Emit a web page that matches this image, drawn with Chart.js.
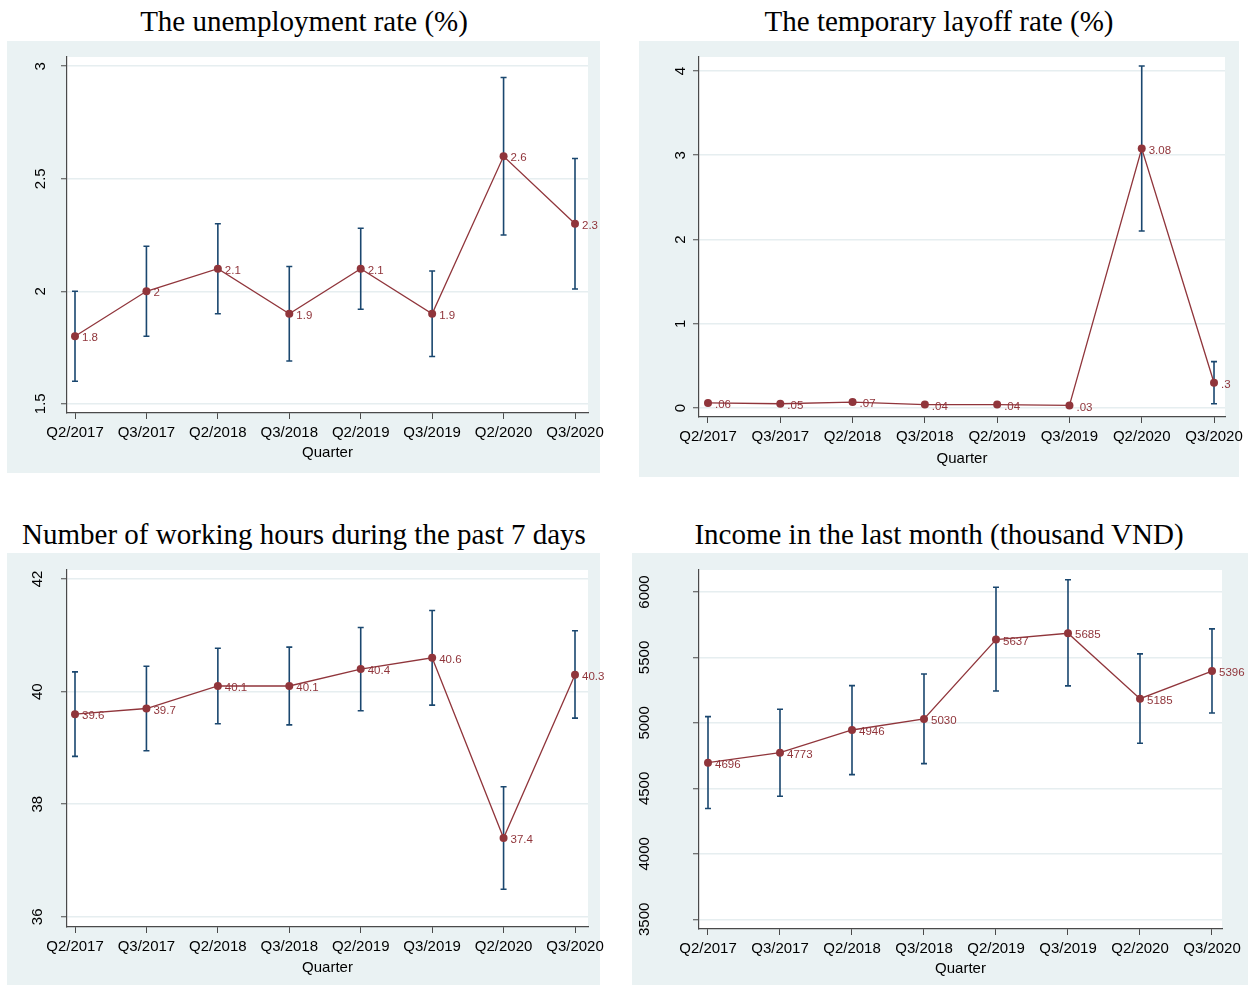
<!DOCTYPE html>
<html>
<head>
<meta charset="utf-8">
<script src="https://cdn.jsdelivr.net/npm/chart.js@4/dist/chart.umd.min.js"></script>
<style>
  body { margin: 0; background: #fff; width: 1255px; height: 986px; position: relative; overflow: hidden; }
  .title { position: absolute; font-family: "Liberation Serif", "Times New Roman", serif; font-size: 29px; color: #000; white-space: nowrap; transform: translate(-50%, -50%); }
  .panel { position: absolute; background: #eaf2f3; overflow: visible; }
  canvas { display: block; position: absolute; left: 0; top: 0; }
</style>
</head>
<body>

<div class="title" style="left:304px; top:21px;">The unemployment rate (%)</div>
<div class="title" style="left:939px; top:21px;">The temporary layoff rate (%)</div>
<div class="title" style="left:304px; top:534px;">Number of working hours during the past 7 days</div>
<div class="title" style="left:939px; top:534px;">Income in the last month (thousand VND)</div>

<div class="panel" style="left:7px; top:41px; width:593px; height:432px;"><canvas id="unempChart" width="613" height="432"></canvas></div>
<div class="panel" style="left:639px; top:41px; width:600px; height:436px;"><canvas id="layoffChart" width="616" height="436"></canvas></div>
<div class="panel" style="left:7px; top:553px; width:593px; height:432px;"><canvas id="hoursChart" width="613" height="432"></canvas></div>
<div class="panel" style="left:632px; top:553px; width:616px; height:432px;"><canvas id="incomeChart" width="623" height="432"></canvas></div>

<script>
// Data
const quarters = ['Q2/2017', 'Q3/2017', 'Q2/2018', 'Q3/2018', 'Q2/2019', 'Q3/2019', 'Q2/2020', 'Q3/2020'];

const unempRate = [1.8, 2, 2.1, 1.9, 2.1, 1.9, 2.6, 2.3];
const unempLow  = [1.60, 1.80, 1.90, 1.69, 1.92, 1.71, 2.25, 2.01];
const unempHigh = [2.00, 2.20, 2.30, 2.11, 2.28, 2.09, 2.95, 2.59];
const unempTicks = [1.5, 2, 2.5, 3];

const layoffRate = [0.06, 0.05, 0.07, 0.04, 0.04, 0.03, 3.08, 0.3];
const layoffLow  = [0.05, 0.04, 0.05, 0.03, 0.03, 0.02, 2.10, 0.05];
const layoffHigh = [0.07, 0.06, 0.09, 0.05, 0.05, 0.04, 4.06, 0.55];
const layoffTicks = [0, 1, 2, 3, 4];

const hoursValue = [39.6, 39.7, 40.1, 40.1, 40.4, 40.6, 37.4, 40.3];
const hoursLow   = [38.85, 38.95, 39.43, 39.41, 39.66, 39.76, 36.49, 39.53];
const hoursHigh  = [40.35, 40.45, 40.77, 40.79, 41.14, 41.44, 38.31, 41.08];
const hoursTicks = [36, 38, 40, 42];

const incomeValue = [4696, 4773, 4946, 5030, 5637, 5685, 5185, 5396];
const incomeLow   = [4346, 4440, 4605, 4689, 5244, 5283, 4845, 5076];
const incomeHigh  = [5048, 5104, 5285, 5374, 6036, 6094, 5527, 5718];
const incomeTicks = [3500, 4000, 4500, 5000, 5500, 6000];

// Colours
const MAROON = '#90353b';
const NAVY = '#1a476f';
const AXIS = '#4a4a4a';
const GRID = '#e6eef0';
const SANS = '"Liberation Sans", Arial, sans-serif';

// White plot region
const plotBg = {
    id: 'plotBg',
    beforeDraw(chart) {
        const { ctx, chartArea: a } = chart;
        ctx.save();
        ctx.fillStyle = '#ffffff';
        ctx.fillRect(a.left, a.top, a.right - a.left, a.bottom - a.top);
        ctx.restore();
    }
};

// Error bars (drawn under the line)
const errorBars = {
    id: 'errorBars',
    beforeDatasetsDraw(chart, args, opts) {
        const { ctx, scales: { x, y } } = chart;
        ctx.save();
        ctx.strokeStyle = NAVY;
        ctx.lineWidth = 1.6;
        opts.low.forEach((lo, i) => {
            const px = x.getPixelForValue(i);
            const y1 = y.getPixelForValue(lo);
            const y2 = y.getPixelForValue(opts.high[i]);
            ctx.beginPath();
            ctx.moveTo(px, y1); ctx.lineTo(px, y2);
            ctx.moveTo(px - 3, y1); ctx.lineTo(px + 3, y1);
            ctx.moveTo(px - 3, y2); ctx.lineTo(px + 3, y2);
            ctx.stroke();
        });
        ctx.restore();
    }
};

// Value labels to the right of each point
const valueLabels = {
    id: 'valueLabels',
    afterDatasetsDraw(chart) {
        const { ctx } = chart;
        const meta = chart.getDatasetMeta(0);
        const values = chart.data.datasets[0].data;
        ctx.save();
        ctx.fillStyle = MAROON;
        ctx.font = '11.5px ' + SANS;
        ctx.textAlign = 'left';
        ctx.textBaseline = 'middle';
        meta.data.forEach((pt, i) => {
            const txt = String(values[i].y).replace(/^0\./, '.');
            ctx.fillText(txt, pt.x + 7, pt.y + 2);
        });
        ctx.restore();
    }
};

function createPanel(canvasId, values, low, high, cfg) {
    const ctx = document.getElementById(canvasId).getContext('2d');
    return new Chart(ctx, {
        type: 'line',
        data: {
            datasets: [{
                data: values.map((v, i) => ({ x: i, y: v })),
                borderColor: MAROON,
                borderWidth: 1.3,
                pointRadius: 4,
                pointBackgroundColor: MAROON,
                pointBorderColor: MAROON,
                pointBorderWidth: 0,
                fill: false,
                tension: 0,
                clip: false
            }]
        },
        options: {
            responsive: false,
            animation: false,
            devicePixelRatio: 1,
            layout: { padding: { top: cfg.padTop, right: cfg.padRight, left: 0, bottom: 0 } },
            plugins: {
                legend: { display: false },
                tooltip: { enabled: false },
                errorBars: { low: low, high: high }
            },
            scales: {
                x: {
                    type: 'linear',
                    min: cfg.xMin,
                    max: cfg.xMax,
                    afterBuildTicks: (scale) => { scale.ticks = quarters.map((_, i) => ({ value: i })); },
                    afterFit: (scale) => {
                        scale.height = cfg.xHeight;
                        scale.paddingLeft = 0;
                        scale.paddingRight = 0;
                    },
                    ticks: {
                        autoSkip: false,
                        maxRotation: 0,
                        padding: 5,
                        color: '#000',
                        font: { family: SANS, size: 15 },
                        callback: (v) => quarters[v]
                    },
                    grid: { drawOnChartArea: false, drawTicks: true, tickLength: 6, tickColor: AXIS, tickWidth: 1 },
                    border: { display: true, color: AXIS, width: 1.2 },
                    title: {
                        display: true,
                        text: 'Quarter',
                        color: '#000',
                        font: { family: SANS, size: 15 },
                        padding: { top: 0, bottom: cfg.titlePad }
                    }
                },
                y: {
                    type: 'linear',
                    min: cfg.yMin,
                    max: cfg.yMax,
                    afterBuildTicks: (scale) => { scale.ticks = cfg.yTicks.map(v => ({ value: v })); },
                    afterFit: (scale) => {
                        scale.width = cfg.yWidth;
                        scale.paddingTop = 0;
                        scale.paddingBottom = 0;
                    },
                    ticks: {
                        minRotation: 90,
                        maxRotation: 90,
                        crossAlign: 'center',
                        padding: cfg.yPad,
                        color: '#000',
                        font: { family: SANS, size: 15 },
                        callback: (v) => String(v)
                    },
                    grid: { color: GRID, lineWidth: 1.5, tickLength: 6, tickColor: AXIS, tickWidth: 1 },
                    border: { display: true, color: AXIS, width: 1.2 }
                }
            }
        },
        plugins: [plotBg, errorBars, valueLabels]
    });
}

createPanel('unempChart', unempRate, unempLow, unempHigh, {
    padTop: 16, padRight: 32, xHeight: 60, yWidth: 60, yPad: 10, titlePad: 11,
    xMin: -0.112, xMax: 7.182, yMin: 1.459, yMax: 3.041, yTicks: unempTicks
});

createPanel('layoffChart', layoffRate, layoffLow, layoffHigh, {
    padTop: 16, padRight: 30, xHeight: 60, yWidth: 60, yPad: 8, titlePad: 9,
    xMin: -0.1245, xMax: 7.152, yMin: -0.107, yMax: 4.166, yTicks: layoffTicks
});

createPanel('hoursChart', hoursValue, hoursLow, hoursHigh, {
    padTop: 17, padRight: 32, xHeight: 58, yWidth: 60, yPad: 15, titlePad: 8,
    xMin: -0.112, xMax: 7.182, yMin: 35.82, yMax: 42.16, yTicks: hoursTicks
});

createPanel('incomeChart', incomeValue, incomeLow, incomeHigh, {
    padTop: 17, padRight: 33, xHeight: 56, yWidth: 67, yPad: 31, titlePad: 7,
    xMin: -0.125, xMax: 7.139, yMin: 3426, yMax: 6168, yTicks: incomeTicks
});
</script>
</body>
</html>
